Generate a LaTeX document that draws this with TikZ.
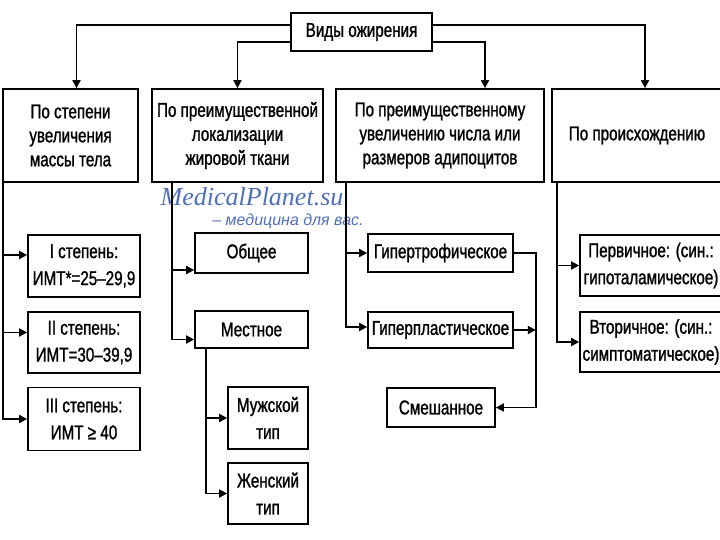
\documentclass[tikz,border=0pt]{standalone}
\usepackage{fontspec}
\setmainfont{Liberation Sans}[FakeStretch=0.76,FakeBold=1.2]
\newfontfamily\wmserif{Liberation Serif}
\newfontfamily\wmsans{Liberation Sans}
\usetikzlibrary{arrows.meta}
\definecolor{wmblue}{RGB}{80,110,185}
\begin{document}
\begin{tikzpicture}[x=1pt,y=-1pt]
			\tikzset{box/.style={draw,line width=1.7pt,inner sep=0pt,align=center,font=\fontsize{20}{24}\selectfont},
				sub/.style={box,font=\fontsize{20}{27}\selectfont},
				arr/.style={line width=1.7pt,-{Triangle[length=8pt,width=8pt]}}}
			\useasboundingbox (0,0) rectangle (720,540);
			\clip (0,0) rectangle (720,540);
			% top level
			\node[box,minimum width=141pt,minimum height=38pt] (root) at (361.5,32) {Виды ожирения};
			\node[box,minimum width=135pt,minimum height=93pt] (deg) at (70.5,135.5) {По степени\\увеличения\\массы тела};
			\node[box,minimum width=171pt,minimum height=93pt] (loc) at (237.5,135.5) {По преимущественной\\локализации\\жировой ткани};
			\node[box,minimum width=208pt,minimum height=93pt] (adip) at (440,135.5) {По преимущественному\\увеличению числа или\\размеров адипоцитов};
			\node[box,minimum width=170pt,minimum height=93pt] (orig) at (637,135.5) {По происхождению};
			% second level
			\node[sub,minimum width=112pt,minimum height=62pt] (d1) at (84,266) {I степень:\\ИМТ*=25–29,9};
			\node[sub,minimum width=112pt,minimum height=61pt] (d2) at (84,342.5) {II степень:\\ИМТ=30–39,9};
			\node[sub,minimum width=112pt,minimum height=63pt] (d3) at (84,419) {III степень:\\ИМТ ≥ 40};
			\node[sub,minimum width=113pt,minimum height=40pt] (gen) at (251.5,253) {Общее};
			\node[sub,minimum width=113pt,minimum height=37pt] (locl) at (251.5,329.5) {Местное};
			\node[sub,minimum width=80pt,minimum height=62pt] (male) at (268,418) {Мужской\\тип};
			\node[sub,minimum width=80pt,minimum height=61pt] (fem) at (268,493.5) {Женский\\тип};
			\node[sub,minimum width=145pt,minimum height=38pt] (hyt) at (440.5,253) {Гипертрофическое};
			\node[sub,minimum width=145pt,minimum height=36pt] (hyp) at (440.5,330) {Гиперпластическое};
			\node[sub,minimum width=108pt,minimum height=39pt] (mix) at (441,407.5) {Смешанное};
			\node[sub,minimum width=142pt,minimum height=61pt] (prim) at (651,265.5) {Первичное: (син.:\\гипоталамическое)};
			\node[sub,minimum width=142pt,minimum height=60pt] (sec) at (651,342) {Вторичное: (син.:\\симптоматическое)};
			\coordinate (jn) at ([xshift=22pt]hyp.east);
			% watermark
			\node[inner sep=0pt,text=wmblue,font=\wmserif\itshape\fontsize{26}{26}\selectfont] (wm) at (252,197) {MedicalPlanet.su};
			\node[inner sep=0pt,text=wmblue,font=\wmsans\itshape\fontsize{16}{16}\selectfont] (wms) at (288,221) {– медицина для вас.};
			% connectors
			\draw[arr] ([yshift=7pt]root.west) -| ([xshift=6pt]deg.north);
			\draw[arr] ([yshift=-10pt]root.west) -| (loc.north);
			\draw[arr] ([yshift=-10pt]root.east) -| ([xshift=45pt]adip.north);
			\draw[arr] ([yshift=7pt]root.east) -| ([xshift=8pt]orig.north);
			\foreach \n/\s in {d1/11,d2/10,d3/0}
				\draw[arr] ([xshift=1pt]deg.south west) |- ([yshift=\s pt]\n.west);
			\foreach \n/\s in {gen/-17,locl/-10}
				\draw[arr] ([xshift=21pt]loc.south west) |- ([yshift=\s pt]\n.west);
			\foreach \n in {male,fem}
				\draw[arr] ([xshift=12pt]locl.south west) |- (\n.west);
			\foreach \n/\s in {hyt/0,hyp/3}
				\draw[arr] ([xshift=11pt]adip.south west) |- ([yshift=\s pt]\n.west);
			\draw[arr] (hyt.east) -| (jn) |- (mix.east);
			\draw[arr] (hyp.east) -- (jn);
			\foreach \n in {prim,sec}
				\draw[arr] ([xshift=6pt]orig.south west) |- (\n.west);
		\end{tikzpicture}
\end{document}
